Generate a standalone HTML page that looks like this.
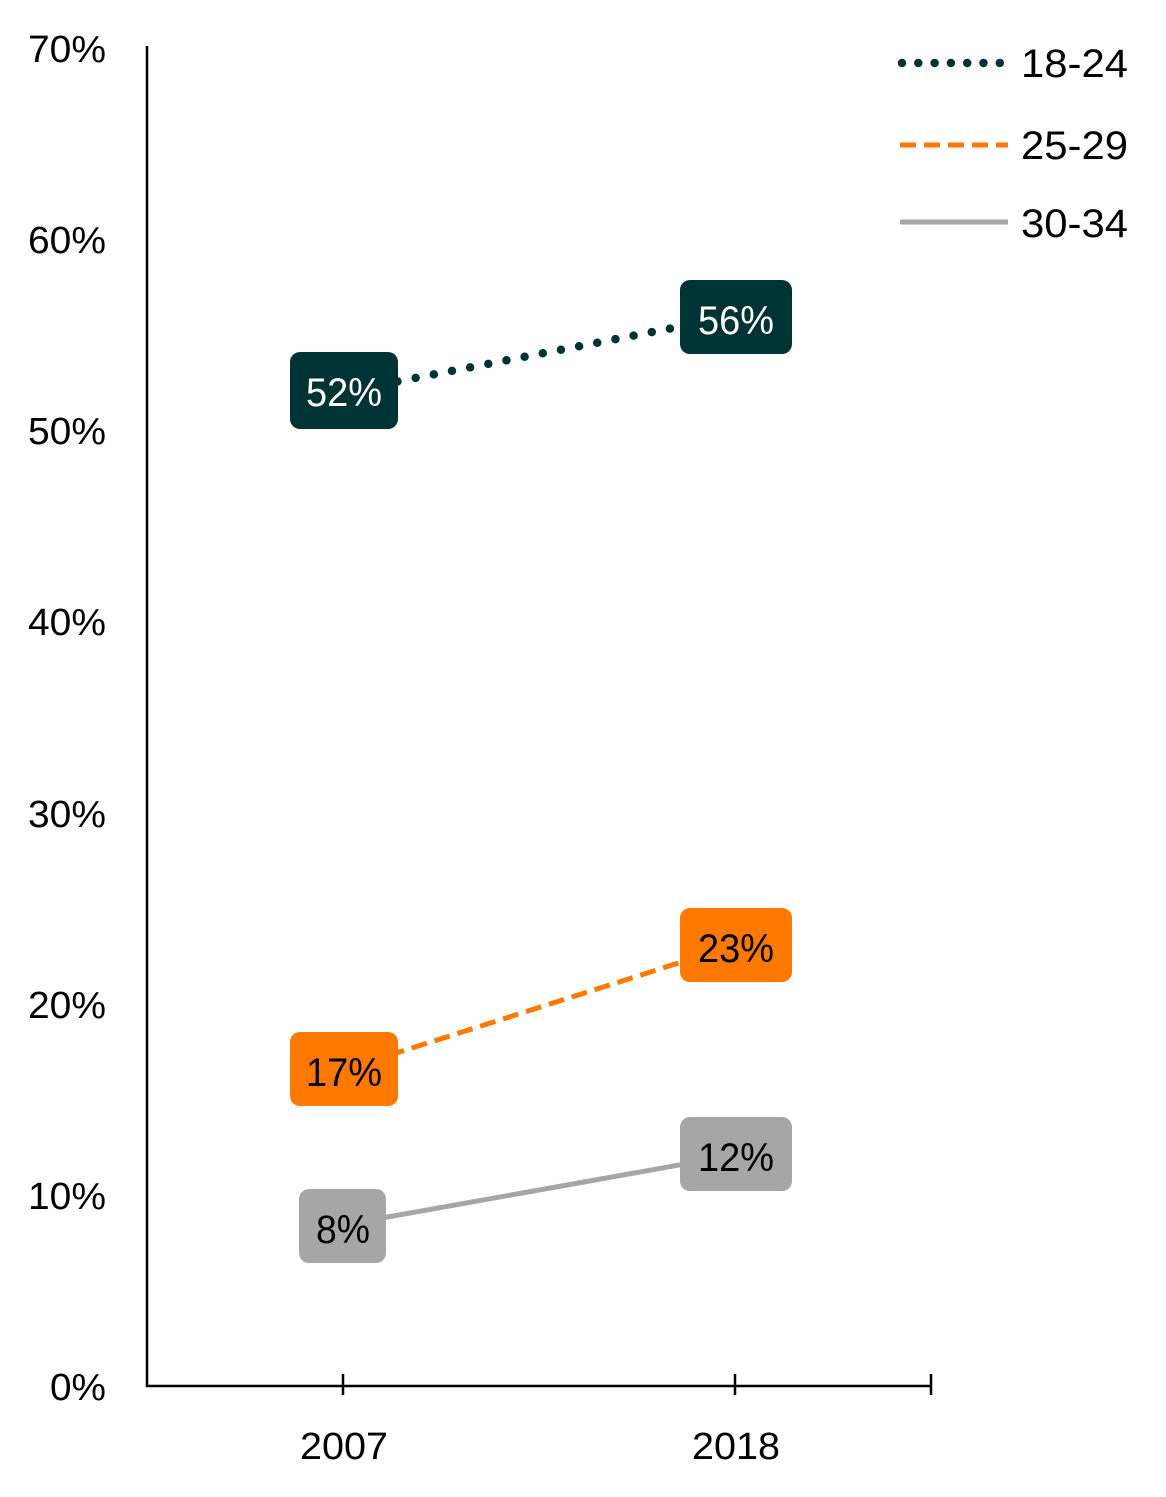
<!DOCTYPE html>
<html><head><style>body{margin:0;background:#fff}svg{display:block}text{font-family:"Liberation Sans",sans-serif}</style></head>
<body>
<svg width="1166" height="1497" viewBox="0 0 1166 1497">
<g font-size="38" fill="#000" text-anchor="end">
<text x="106" y="62" textLength="78" lengthAdjust="spacingAndGlyphs">70%</text>
<text x="106" y="253" textLength="78" lengthAdjust="spacingAndGlyphs">60%</text>
<text x="106" y="444" textLength="78" lengthAdjust="spacingAndGlyphs">50%</text>
<text x="106" y="635" textLength="78" lengthAdjust="spacingAndGlyphs">40%</text>
<text x="106" y="827" textLength="78" lengthAdjust="spacingAndGlyphs">30%</text>
<text x="106" y="1018" textLength="78" lengthAdjust="spacingAndGlyphs">20%</text>
<text x="106" y="1209" textLength="78" lengthAdjust="spacingAndGlyphs">10%</text>
<text x="106" y="1400" textLength="56" lengthAdjust="spacingAndGlyphs">0%</text>
</g>
<g stroke="#000" stroke-width="2.5" fill="none">
<path d="M147 46V1386H931"/>
<path d="M343 1374V1395M735 1374V1395M931 1374V1395"/>
</g>
<g font-size="38" text-anchor="middle">
<text x="344" y="1459" textLength="88" lengthAdjust="spacingAndGlyphs">2007</text>
<text x="736" y="1459" textLength="88" lengthAdjust="spacingAndGlyphs">2018</text>
</g>
<line x1="343" y1="392" x2="735" y2="316" stroke="#003333" stroke-width="8.5" stroke-linecap="round" stroke-dasharray="0 18.5"/>
<line x1="343" y1="1070" x2="735" y2="945" stroke="#ff7800" stroke-width="5" stroke-dasharray="16 8"/>
<line x1="343" y1="1225" x2="735" y2="1155" stroke="#a6a6a6" stroke-width="5"/>
<rect x="290" y="352" width="108" height="77" rx="10" fill="#003333"/>
<rect x="680" y="280" width="112" height="74" rx="10" fill="#003333"/>
<rect x="290" y="1032" width="108" height="74" rx="10" fill="#ff7800"/>
<rect x="680" y="908" width="112" height="74" rx="10" fill="#ff7800"/>
<rect x="299" y="1189" width="87" height="74" rx="10" fill="#a6a6a6"/>
<rect x="680" y="1117" width="112" height="74" rx="10" fill="#a6a6a6"/>
<g font-size="40" text-anchor="middle">
<text x="344" y="406" fill="#fff" textLength="76" lengthAdjust="spacingAndGlyphs">52%</text>
<text x="736" y="334" fill="#fff" textLength="76" lengthAdjust="spacingAndGlyphs">56%</text>
<text x="344" y="1086" textLength="76" lengthAdjust="spacingAndGlyphs">17%</text>
<text x="736" y="962" textLength="76" lengthAdjust="spacingAndGlyphs">23%</text>
<text x="343" y="1243" textLength="54" lengthAdjust="spacingAndGlyphs">8%</text>
<text x="736" y="1171" textLength="76" lengthAdjust="spacingAndGlyphs">12%</text>
</g>
<line x1="902" y1="63" x2="1000" y2="63" stroke="#003333" stroke-width="8.5" stroke-linecap="round" stroke-dasharray="0 16.3"/>
<line x1="900" y1="145" x2="1008" y2="145" stroke="#ff7800" stroke-width="5" stroke-dasharray="16 8"/>
<line x1="900" y1="222" x2="1008" y2="222" stroke="#a6a6a6" stroke-width="5"/>
<g font-size="40">
<text x="1021" y="77" textLength="107" lengthAdjust="spacingAndGlyphs">18-24</text>
<text x="1021" y="159" textLength="107" lengthAdjust="spacingAndGlyphs">25-29</text>
<text x="1021" y="237" textLength="107" lengthAdjust="spacingAndGlyphs">30-34</text>
</g>
</svg>
</body></html>
